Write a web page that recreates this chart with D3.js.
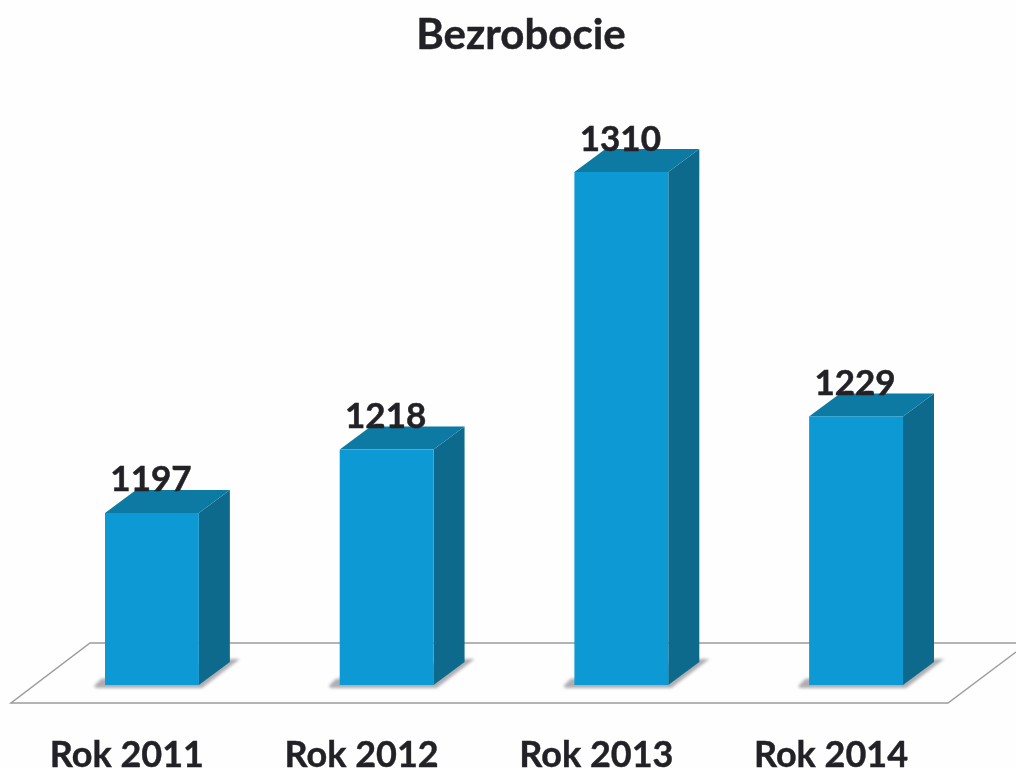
<!DOCTYPE html>
<html><head><meta charset="utf-8">
<script src="https://cdn.jsdelivr.net/npm/d3@7"></script>
<style>html,body{margin:0;padding:0;background:#fefefe;overflow:hidden}svg{display:block}</style>
</head><body><svg id="c" width="1016" height="768"></svg>
<script>
const chartTitle = "Bezrobocie";
const categories = ["Rok 2011","Rok 2012","Rok 2013","Rok 2014"];
const values = [1197,1218,1310,1229];
const axisBase = 1140;

const svg = d3.select("#c");
const defs = svg.append("defs");
defs.append("filter").attr("id","soft").append("feGaussianBlur").attr("stdDeviation",0.7);
defs.append("filter").attr("id","shadow").attr("x","-20%").attr("y","-50%").attr("width","140%").attr("height","200%")
  .append("feGaussianBlur").attr("stdDeviation",1.6);
const font = "Lato, 'Open Sans', sans-serif";
const ink = "#222226";

const x = d3.scaleBand().domain(categories).range([105,903]).paddingInner(0.6).paddingOuter(0);
const y = d3.scaleLinear().domain([axisBase,1310]).range([685,172]);
const depthX = 31, depthY = 23;
const line = d3.line();

const root = svg.append("g").attr("filter","url(#soft)");

// floor
root.append("path").attr("fill","none").attr("stroke","#9c9c9c").attr("stroke-width",1.5)
  .attr("d",line([[1016,643],[90,643],[11,703],[948,703],[1016,652]]));

// marks
const bars = root.selectAll("g.bar").data(categories.map((c,i)=>({c,v:values[i]}))).join("g").attr("class","bar");
bars.append("path").attr("fill","#aeaeb2").attr("filter","url(#shadow)")
  .attr("d",d=>{const a=x(d.c),b=a+x.bandwidth(),z=y(axisBase);
    return line([[a-4,z-6],[a-11,z+1],[a-9,z+3],[b+3,z+3],[b+depthX+10,z-depthY-3],[b+depthX,z-depthY-3]])+"Z";});
bars.append("path").attr("fill","#0f6a8d")
  .attr("d",d=>{const b=x(d.c)+x.bandwidth(),t=y(d.v),z=y(axisBase);
    return line([[b,t],[b+depthX,t-depthY],[b+depthX,z-depthY],[b,z]])+"Z";});
bars.append("path").attr("fill","#0b7aa4")
  .attr("d",d=>{const a=x(d.c),b=a+x.bandwidth(),t=y(d.v);
    return line([[a,t],[a+depthX,t-depthY],[b+depthX,t-depthY],[b,t]])+"Z";});
bars.append("rect").attr("fill","#0a9ad4")
  .attr("x",d=>x(d.c)).attr("y",d=>y(d.v)).attr("width",x.bandwidth()).attr("height",d=>y(axisBase)-y(d.v));

// value labels
bars.append("text").attr("x",d=>x(d.c)+x.bandwidth()/2-1).attr("y",d=>y(d.v)-21.5)
  .attr("text-anchor","middle").attr("font-family",font).attr("font-weight",700).attr("font-size",35)
  .attr("fill",ink).attr("stroke",ink).attr("stroke-width",0.5).text(d=>d.v);

// category labels
root.selectAll("text.cat").data(categories).join("text").attr("class","cat")
  .attr("x",d=>x(d)+x.bandwidth()/2-25).attr("y",766.5).attr("text-anchor","middle")
  .attr("font-family",font).attr("font-weight",700).attr("font-size",36)
  .attr("fill",ink).attr("stroke",ink).attr("stroke-width",0.4).text(d=>d);

// title
root.append("text").attr("x",521).attr("y",49).attr("text-anchor","middle")
  .attr("font-family",font).attr("font-weight",700).attr("font-size",42)
  .attr("fill",ink).attr("stroke",ink).attr("stroke-width",0.4).text(chartTitle);
</script></body></html>
